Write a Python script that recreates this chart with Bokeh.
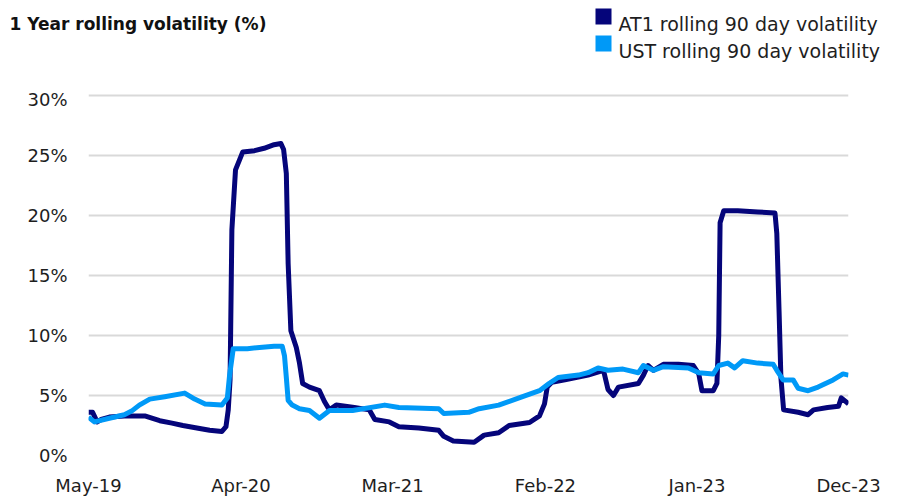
import pandas as pd
from bokeh.plotting import figure
from bokeh.layouts import column
from bokeh.models import (Range1d, FixedTicker, DatetimeTickFormatter, PrintfTickFormatter,
                          ColumnDataSource)
from bokeh.core.properties import value
from bokeh.embed import file_html
from bokeh.resources import INLINE

# ---------------- data ----------------
at1_dates = ["2019-05-01", "2019-05-10", "2019-05-20", "2019-05-29", "2019-06-16", "2019-07-19",
             "2019-09-02", "2019-10-05", "2019-11-01", "2019-11-25", "2020-01-01", "2020-01-23",
             "2020-02-19", "2020-02-28", "2020-03-04", "2020-03-08", "2020-03-12", "2020-03-20",
             "2020-04-05", "2020-05-01", "2020-05-22", "2020-06-13", "2020-06-28", "2020-07-04",
             "2020-07-10", "2020-07-14", "2020-07-20", "2020-08-01", "2020-08-08", "2020-08-15",
             "2020-08-30", "2020-09-21", "2020-10-02", "2020-10-13", "2020-10-28", "2020-12-07",
             "2021-01-09", "2021-01-21", "2021-02-22", "2021-03-15", "2021-04-28", "2021-06-11",
             "2021-06-22", "2021-07-13", "2021-08-28", "2021-09-19", "2021-10-21", "2021-11-13",
             "2021-12-28", "2022-01-19", "2022-01-30", "2022-02-05", "2022-02-15", "2022-03-16",
             "2022-05-06", "2022-06-09", "2022-06-19", "2022-07-01", "2022-07-12", "2022-08-25",
             "2022-09-05", "2022-09-15", "2022-09-27", "2022-10-19", "2022-11-21", "2022-12-24",
             "2023-01-05", "2023-01-12", "2023-02-06", "2023-02-14", "2023-02-18", "2023-02-21",
             "2023-03-01", "2023-04-01", "2023-05-15", "2023-06-22", "2023-06-26", "2023-07-01",
             "2023-07-05", "2023-07-11", "2023-08-12", "2023-09-03", "2023-09-15", "2023-10-16",
             "2023-11-09", "2023-11-15", "2023-12-01"]
at1_vol = [3.6, 3.6, 2.8, 3.0, 3.2, 3.3,
           3.3, 2.9, 2.7, 2.5, 2.25, 2.1,
           2.0, 2.4, 3.8, 6.3, 18.8, 23.8,
           25.3, 25.4, 25.6, 25.9, 26.0, 25.5,
           23.5, 16.0, 10.4, 9.0, 7.7, 6.0,
           5.7, 5.4, 4.5, 3.8, 4.2, 4.0,
           3.8, 3.0, 2.8, 2.4, 2.3, 2.1,
           1.6, 1.2, 1.1, 1.7, 1.9, 2.5,
           2.75, 3.3, 4.3, 5.7, 6.1, 6.3,
           6.7, 7.1, 5.5, 5.0, 5.7, 6.0,
           6.7, 7.5, 7.1, 7.6, 7.6, 7.5,
           6.8, 5.4, 5.4, 6.0, 10.0, 19.4,
           20.4, 20.4, 20.3, 20.2, 18.5, 12.0,
           6.5, 3.8, 3.6, 3.4, 3.8, 4.0,
           4.1, 4.8, 4.3]

ust_dates = ["2019-05-01", "2019-05-14", "2019-06-16", "2019-07-19", "2019-08-04", "2019-08-21",
             "2019-09-13", "2019-10-16", "2019-11-29", "2019-12-21", "2020-01-13", "2020-02-19",
             "2020-03-02", "2020-03-07", "2020-03-15", "2020-04-15", "2020-05-12", "2020-06-13",
             "2020-07-01", "2020-07-06", "2020-07-10", "2020-07-14", "2020-07-23", "2020-08-08",
             "2020-08-30", "2020-09-21", "2020-10-13", "2020-12-03", "2021-02-12", "2021-03-15",
             "2021-06-11", "2021-06-22", "2021-08-16", "2021-09-08", "2021-10-21", "2021-12-05",
             "2022-01-19", "2022-02-09", "2022-03-01", "2022-04-15", "2022-05-06", "2022-05-28",
             "2022-06-19", "2022-07-22", "2022-08-25", "2022-09-05", "2022-09-27", "2022-10-19",
             "2022-12-13", "2023-01-05", "2023-02-06", "2023-02-18", "2023-03-10", "2023-03-25",
             "2023-04-12", "2023-05-15", "2023-06-18", "2023-06-26", "2023-07-10", "2023-08-01",
             "2023-08-12", "2023-09-03", "2023-09-25", "2023-10-28", "2023-11-19", "2023-12-01"]
ust_vol = [3.2, 2.8, 3.1, 3.4, 3.7, 4.2,
           4.7, 4.9, 5.2, 4.7, 4.3, 4.2,
           4.8, 6.7, 8.9, 8.9, 9.0, 9.1,
           9.1, 8.3, 6.5, 4.6, 4.2, 3.9,
           3.75, 3.1, 3.75, 3.75, 4.2, 4.0,
           3.9, 3.5, 3.6, 3.9, 4.2, 4.8,
           5.4, 6.0, 6.5, 6.7, 6.9, 7.3,
           7.1, 7.2, 6.9, 7.5, 7.1, 7.4,
           7.3, 6.9, 6.8, 7.5, 7.7, 7.3,
           7.9, 7.7, 7.6, 7.1, 6.3, 6.3,
           5.6, 5.4, 5.7, 6.3, 6.8, 6.7]

tick_dates = ["2019-05-01", "2020-04-01", "2021-03-01", "2022-02-01", "2023-01-01", "2023-12-01"]
y_ticks = [0, 5, 10, 15, 20, 25, 30]

title_text = "1 Year rolling volatility (%)"
series_labels = ["AT1 rolling 90 day volatility", "UST rolling 90 day volatility"]

# ---------------- styling ----------------
AT1_COLOR = "#05057a"
UST_COLOR = "#0099f7"
TEXT_COLOR = "#1e1e1e"
FONT = "DejaVu Sans"
W = 905
HEAD_H = 88
MAIN_H = 500 - HEAD_H

# ---------------- header: title + legend ----------------
head = figure(width=W, height=HEAD_H, output_backend="svg", toolbar_location=None,
              x_range=Range1d(0, W), y_range=Range1d(HEAD_H, 0),
              x_axis_location=None, y_axis_location=None, min_border=0)
head.outline_line_color = None
head.grid.visible = False
head.text(x=[9], y=[23], text=[title_text], text_font=value(FONT),
          text_font_style="bold", text_font_size="17px", text_color="#111111",
          text_baseline="alphabetic", text_align="left")
sw = ColumnDataSource(dict(l=[595, 595], r=[611, 611], t=[8, 35], b=[24, 51],
                           c=[AT1_COLOR, UST_COLOR], tx=[618, 618], ty=[23, 50],
                           lab=series_labels))
head.quad(left="l", right="r", top="t", bottom="b", fill_color="c", line_color=None, source=sw)
head.text(x="tx", y="ty", text="lab", source=sw, text_font=value(FONT),
          text_font_size="19px", text_color=TEXT_COLOR, text_baseline="alphabetic")

# ---------------- main chart ----------------
at1_src = ColumnDataSource(dict(x=pd.to_datetime(at1_dates), y=at1_vol))
ust_src = ColumnDataSource(dict(x=pd.to_datetime(ust_dates), y=ust_vol))

p = figure(frame_width=760, frame_height=367, x_axis_type="datetime",
           output_backend="svg", toolbar_location=None,
           x_range=Range1d(pd.Timestamp(tick_dates[0]), pd.Timestamp(tick_dates[-1])),
           y_range=Range1d(0, 30.583),
           min_border_left=88, min_border_right=57, min_border_top=0, min_border_bottom=45)
p.outline_line_color = None

p.line("x", "y", source=at1_src, line_color=AT1_COLOR, line_width=5, line_join="round")
p.line("x", "y", source=ust_src, line_color=UST_COLOR, line_width=5, line_join="round")

tick_ms = [pd.Timestamp(d).value // 10**6 for d in tick_dates]
p.xaxis.ticker = FixedTicker(ticks=tick_ms)
p.xaxis.formatter = DatetimeTickFormatter(days="%b-%y", months="%b-%y", years="%b-%y",
                                          hours="%b-%y", hourmin="%b-%y")
p.yaxis.ticker = FixedTicker(ticks=y_ticks)
p.yaxis.formatter = PrintfTickFormatter(format="%d%%")
for ax in (p.xaxis[0], p.yaxis[0]):
    ax.axis_line_color = None
    ax.major_tick_line_color = None
    ax.minor_tick_line_color = None
    ax.major_tick_out = 0
    ax.major_tick_in = 0
    ax.minor_tick_out = 0
    ax.major_label_text_font = FONT
    ax.major_label_text_font_size = "18px"
    ax.major_label_text_color = TEXT_COLOR
p.yaxis.major_label_standoff = 21
p.xaxis.major_label_standoff = 19

p.xgrid.visible = False
p.ygrid.grid_line_color = "#d9d9d9"
p.ygrid.grid_line_width = 2

# keep the header's own full-width frame (do not align it with the chart's frame)
for fig in (head, p):
    if "frame_align" in fig.properties():
        fig.frame_align = False

layout = column(head, p, spacing=0)
open("out.html", "w").write(file_html(layout, INLINE))
